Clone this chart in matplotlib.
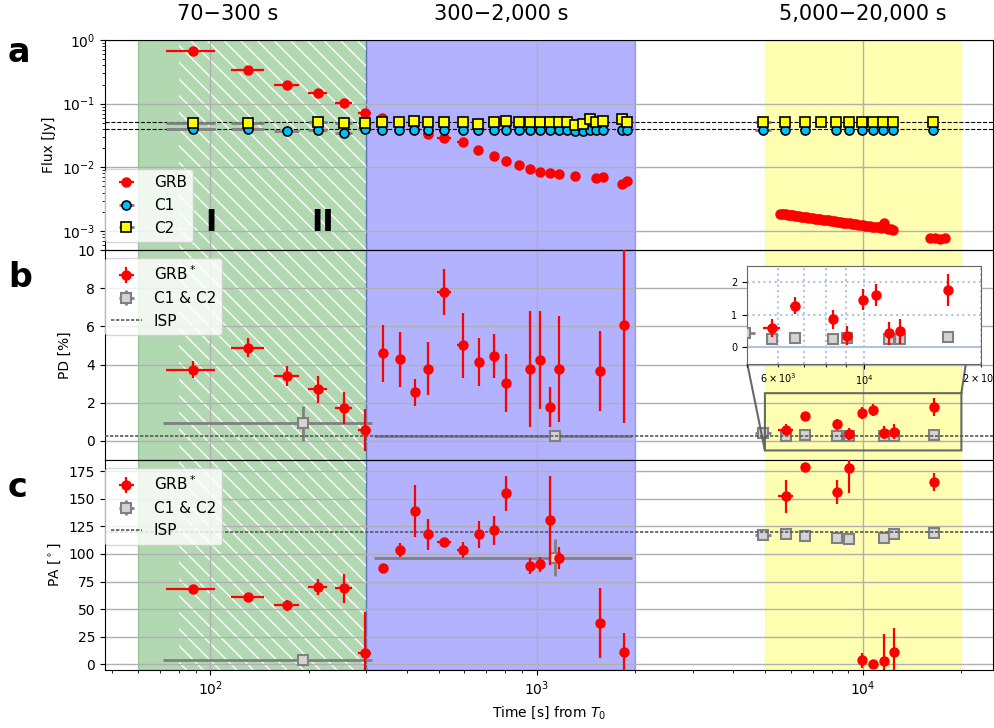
import numpy as np
import matplotlib.pyplot as plt
from matplotlib.lines import Line2D

# ── panel a: light curves ─────────────────────────────────────
# GRB points with time bins (early + middle epoch)
t_flux = [88.3, 130.5, 171.8, 213.3, 256.6, 296.8,
          336, 378, 420, 464, 520, 592, 661, 737, 807, 881, 952,
          1021, 1094, 1166, 1311, 1520, 1597, 1818, 1885]
dt_flux = [15, 15, 15, 15, 15, 14,
           10, 10, 12, 15, 27, 22, 15, 12, 10, 10, 10,
           10, 10, 10, 10, 10, 10, 10, 10]
f_grb = [0.67, 0.338, 0.197, 0.146, 0.101, 0.072,
         0.059, 0.048, 0.0396, 0.033, 0.0293, 0.0251, 0.0188, 0.0151, 0.0126,
         0.0109, 0.0093, 0.00857, 0.00807, 0.00787, 0.0074, 0.0069, 0.0071,
         0.00548, 0.00618]

# GRB late-epoch photometry (dense sampling)
t_flux_late = [5580, 5650, 5720, 5800, 5870, 5950, 6030, 6110, 6190, 6270,
               6360, 6440, 6530, 6620, 6710, 6800, 6900, 7000, 7100, 7200,
               7300, 7400, 7510, 7620, 7730, 7840, 7950, 8070, 8190, 8310,
               8430, 8560, 8690, 8820, 8950, 9090, 9230, 9370, 9520, 9670,
               9820, 9980, 10140, 10300, 10470, 10640, 10810, 10990, 11170,
               11360, 11550, 11740, 11940, 12140, 12350,
               16000, 16600, 17200, 17800]
f_grb_late = [0.00186, 0.00185, 0.00183, 0.00181, 0.00180, 0.00178, 0.00177,
              0.00175, 0.00173, 0.00172, 0.00170, 0.00168, 0.00167, 0.00165,
              0.00163, 0.00161, 0.00160, 0.00158, 0.00156, 0.00155, 0.00153,
              0.00152, 0.00150, 0.00149, 0.00147, 0.00146, 0.00144, 0.00143,
              0.00141, 0.00140, 0.00138, 0.00137, 0.00135, 0.00134, 0.00133,
              0.00131, 0.00130, 0.00128, 0.00127, 0.00125, 0.00124, 0.00123,
              0.00121, 0.00120, 0.00119, 0.00117, 0.00116, 0.00115, 0.00113,
              0.00112, 0.00132, 0.00109, 0.00108, 0.00106, 0.00104,
              0.00078, 0.00076, 0.00075, 0.00076]

# comparison stars C1 / C2
t_cmp = [88.3, 130.5, 171.8, 213.3, 256.6, 296.8,
         336, 378, 420, 464, 520, 592, 661, 737, 807, 881, 952, 1021, 1094,
         1166, 1236, 1311, 1381, 1451, 1520, 1597, 1818, 1885,
         4936, 5777, 6640, 7433, 8283, 9040, 9908, 10732, 11543, 12360, 16395]
dt_cmp = [15, 15, 15, 15, 15, 14,
          10, 10, 10, 10, 10, 10, 10, 10, 10, 10, 10, 10, 10,
          10, 10, 10, 10, 10, 10, 10, 10, 10,
          290, 60, 60, 60, 60, 60, 60, 60, 60, 60, 60]
f_c1 = [0.0401, 0.0401, 0.0373, 0.0387, 0.0351, 0.0401,
        0.0391, 0.0387, 0.0387, 0.0387, 0.0387, 0.0387, 0.0387, 0.0387, 0.0387,
        0.0387, 0.0387, 0.0387, 0.0387, 0.0387, 0.0387, 0.0376, 0.0376, 0.0387,
        0.0387, 0.0387, 0.0387, 0.0387,
        0.0387, 0.0387, 0.0387, np.nan, 0.0387, 0.0387, 0.0387, 0.0387, 0.0387,
        0.0387, 0.0387]
f_c2 = [0.0492, 0.0492, np.nan, 0.0509, 0.0492, 0.0492,
        0.0509, 0.0509, 0.0535, 0.0509, 0.0509, 0.0520, 0.0480, 0.0509, 0.0535,
        0.0509, 0.0520, 0.0509, 0.0520, 0.0520, 0.0509, 0.0458, 0.0480, 0.0575,
        0.0509, 0.0540, 0.0569, 0.0509,
        0.0509, 0.0509, 0.0509, 0.0512, 0.0509, 0.0509, 0.0509, 0.0509, 0.0509,
        0.0509, 0.0509]
f_c1_mean = 0.0396
f_c2_mean = 0.051

# ── panels b / c: polarimetry ─────────────────────────────────
t_pol = [88.3, 130.5, 171.8, 213.3, 256.6, 296.8,
         338, 380, 422, 464, 520, 592, 663, 737, 807, 952, 1024, 1094, 1166,
         1561, 1849,
         5790, 6630, 8300, 9060, 9940, 10720, 11600, 12420, 16500]
dt_pol = [15, 15, 15, 15, 15, 14,
          10, 10, 10, 12, 27, 22, 18, 12, 10, 10, 10, 10, 10, 20, 10,
          300, 200, 200, 150, 150, 150, 150, 150, 200]
pd_grb = [3.74, 4.87, 3.39, 2.70, 1.71, 0.57,
          4.58, 4.27, 2.54, 3.78, 7.82, 5.00, 4.13, 4.45, 3.04, 3.76, 4.23,
          1.76, 3.76, 3.66, 6.09,
          0.59, 1.28, 0.87, 0.36, 1.46, 1.61, 0.43, 0.49, 1.76]
pd_grb_err = [0.45, 0.50, 0.52, 0.70, 0.85, 1.10,
              1.48, 1.45, 0.72, 1.40, 1.20, 1.72, 1.24, 1.16, 1.50, 3.04, 2.56,
              1.04, 2.76, 2.09, 5.17,
              0.27, 0.26, 0.29, 0.30, 0.32, 0.33, 0.34, 0.37, 0.48]
pa_grb = [68, 61, 53.4, 70, 69, 10.5,
          87.4, 103.2, 138.7, 117.6, 110.7, 103.4, 117.6, 121.3, 154.7, 89,
          90.5, 130.3, 96.5, 37.6, 11.1,
          152.3, 178.6, 156, 178, 3.6, 0.2, 3, 11.4, 165.3]
pa_grb_err = [2, 2, 5, 7, 13, 37,
              2, 6.3, 23.5, 14, 3, 7, 12, 13, 16, 7.5, 7, 40, 9.7, 32, 17,
              15, 4, 11, 23, 7, 3, 25, 22, 8]

# C1 & C2 combined (field stars)
t_fs = [192.4, 1136, 4936, 5790, 6630, 8300, 9060, 11600, 12420, 16500]
dt_fs = [121, 818, 290, 150, 60, 60, 60, 60, 60, 60]
pd_fs = [0.92, 0.28, 0.43, 0.26, 0.29, 0.26, 0.28, 0.26, 0.26, 0.31]
pd_fs_err = [0.90, 0.08, 0.05, 0.04, 0.04, 0.04, 0.04, 0.04, 0.04, 0.04]
pa_fs = [4.2, 96.5, 117, 117.6, 115.8, 114, 113.1, 114, 117.6, 119.1]
pa_fs_err = [5.5, 16.6, 2, 2, 2, 2, 2, 2, 2, 2]

isp_pd = 0.28
isp_pa = 120

periods = ["70\u2212300 s", "300\u22122,000 s", "5,000\u221220,000 s"]
period_x = [113, 775, 10000]

GRB_KW = dict(fmt="o", color="red", ms=6.5, elinewidth=1.6, zorder=4)
FS_KW = dict(fmt="s", mfc="#d3d3d3", mec="gray", mew=1.5, color="gray",
             ms=6.5, elinewidth=2, zorder=3)


def shade(ax):
    ax.axvspan(60, 300, color="green", alpha=0.3, zorder=0)
    ax.axvspan(80, 300, facecolor="none", edgecolor="white", hatch="\\\\",
               lw=0, zorder=0.5)
    ax.axvspan(300, 2000, color="blue", alpha=0.3, zorder=0)
    ax.axvspan(5000, 20000, color="yellow", alpha=0.3, zorder=0)
    ax.grid(True, color="#b0b0b0", lw=1.0)


fig, (ax_a, ax_b, ax_c) = plt.subplots(3, 1, sharex=True, figsize=(9.95, 7.28),
                                       dpi=100, gridspec_kw=dict(hspace=0))
fig.subplots_adjust(left=0.1055, right=0.998, bottom=0.0797, top=0.945)

for ax in (ax_a, ax_b, ax_c):
    shade(ax)

# ── a ──
ax_a.set_yscale("log")
ax_a.axhline(f_c2_mean, color="k", ls="--", lw=0.8, zorder=2)
ax_a.axhline(f_c1_mean, color="k", ls="--", lw=0.8, zorder=2)
h_grb = ax_a.errorbar(t_flux, f_grb, xerr=dt_flux, label="GRB", **GRB_KW)
ax_a.errorbar(t_flux_late, f_grb_late, **GRB_KW)
h_c1 = ax_a.errorbar(t_cmp, f_c1, xerr=dt_cmp, fmt="o", mfc="deepskyblue",
                     mec="k", mew=1.2, ecolor="gray", ms=6.5, elinewidth=2,
                     zorder=5, label="C1")
h_c2 = ax_a.errorbar(t_cmp, f_c2, xerr=dt_cmp, fmt="s", mfc="yellow",
                     mec="k", mew=1.2, ecolor="gray", ms=6.5, elinewidth=2,
                     zorder=6, label="C2")
ax_a.set_ylim(5e-4, 1)
ax_a.set_ylabel("Flux [Jy]")
ax_a.legend(loc="lower left", bbox_to_anchor=(0.0, 0.04), borderaxespad=0,
            fontsize=11)
ax_a.text(100, 1e-3, "I", ha="center", va="baseline", fontsize=22,
          fontweight="bold")
ax_a.text(220, 1e-3, "II", ha="center", va="baseline", fontsize=22,
          fontweight="bold")
for x, s in zip(period_x, periods):
    ax_a.text(x, 1.124, s, transform=ax_a.get_xaxis_transform(),
              ha="center", va="center", fontsize=15)


def pol_panel(ax, y, yerr, y_fs, y_fs_err, isp):
    h_fs = ax.errorbar(t_fs, y_fs, xerr=dt_fs, yerr=y_fs_err, **FS_KW)
    h_isp = ax.axhline(isp, color="0.35", ls="--", lw=1.2, dashes=(2, 1),
                       zorder=3.5)
    h_g = ax.errorbar(t_pol, y, xerr=dt_pol, yerr=yerr, **GRB_KW)
    ax.legend([h_g, h_fs, h_isp], ["GRB$^*$", "C1 & C2", "ISP"],
              loc="upper left", bbox_to_anchor=(0.0, 0.96), borderaxespad=0,
              fontsize=11)


# ── b ──
pol_panel(ax_b, pd_grb, pd_grb_err, pd_fs, pd_fs_err, isp_pd)
ax_b.set_ylim(-1, 10)
ax_b.set_yticks([0, 2, 4, 6, 8, 10])
ax_b.set_ylabel("PD [%]")

axins = ax_b.inset_axes([0.7233, 0.4583, 0.2628, 0.466])
axins.set_xscale("log")
axins.errorbar(t_fs, pd_fs, xerr=dt_fs, yerr=pd_fs_err, **FS_KW)
axins.errorbar(t_pol, pd_grb, xerr=dt_pol, yerr=pd_grb_err, **GRB_KW)
axins.axhline(0, color="lightsteelblue", lw=1.5, zorder=1)
axins.grid(True, which="both", ls=":", color="lightsteelblue", lw=1.5)
axins.set_xlim(5000, 20000)
axins.set_ylim(-0.5, 2.5)
axins.set_yticks([0, 1, 2])
axins.tick_params(which="both", labelsize=7)
for sp in axins.spines.values():
    sp.set_edgecolor("0.4")
ax_b.indicate_inset_zoom(axins, edgecolor="0.35", lw=1.5, alpha=0.9)

# ── c ──
pol_panel(ax_c, pa_grb, pa_grb_err, pa_fs, pa_fs_err, isp_pa)
ax_c.set_ylim(-5, 185)
ax_c.set_yticks([0, 25, 50, 75, 100, 125, 150, 175])
ax_c.set_ylabel(r"PA [$^\circ$]")
ax_c.set_xscale("log")
ax_c.set_xlim(47.5, 25000)
ax_c.set_xlabel("Time [s] from $T_0$")

for s, yb in zip("abc", [0.9148, 0.6058, 0.3173]):
    fig.text(0.008, yb, s, fontsize=24, fontweight="bold", va="baseline")

fig.savefig("out.png", dpi=100)
